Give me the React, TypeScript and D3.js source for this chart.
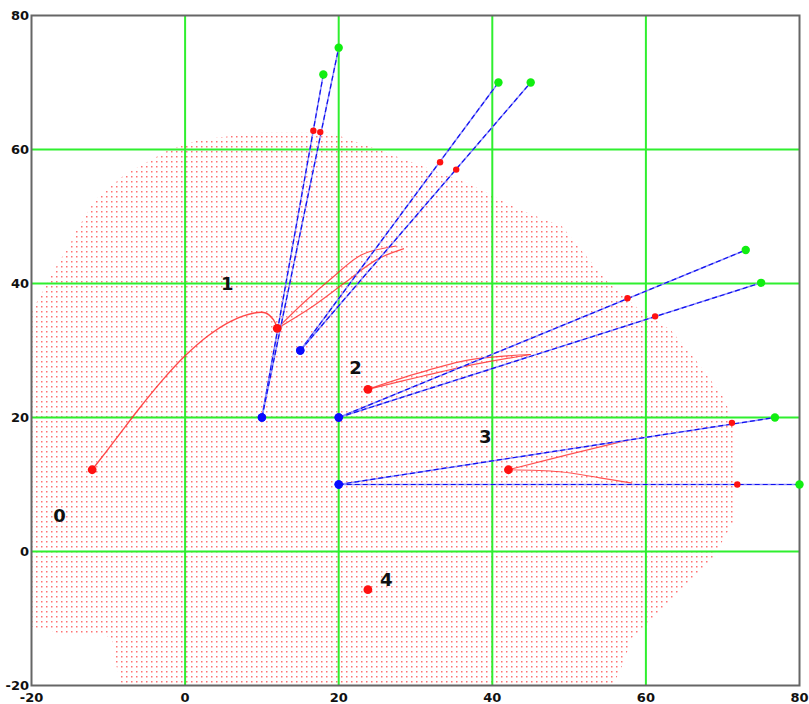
import React from "react";
import * as d3 from "d3";

const W = 809, H = 704;
const xTicks = [-20, 0, 20, 40, 60, 80];
const yTicks = [-20, 0, 20, 40, 60, 80];
const gridVals = [0, 20, 40, 60];

// workspace boundary (data coords)
const workspace: [number, number][] = [
  [-20, 35.8], [-16.5, 43.1], [-15, 45.8], [-14.3, 47.6], [-11.7, 52.5], [-7.8, 56.3],
  [-2, 60], [2, 61.5], [9.8, 62.5], [18.9, 62.5], [20.4, 61.9], [24.1, 60.4], [28.6, 58.5],
  [37.1, 54.8], [43.6, 51], [49.1, 48.5], [51.2, 45.5], [55.1, 40.1], [59.2, 36.1],
  [63.2, 33.1], [66.4, 28.7], [70.3, 22.7], [71.6, 18.2], [71.6, 4.8], [68.6, -1.2],
  [64.5, -5.7], [60.9, -10.1], [58, -13.1], [57.3, -16.1], [55.7, -20], [-8.2, -20],
  [-8.9, -17.3], [-9.5, -13.1], [-10.8, -12.2], [-16.5, -12.2], [-18, -11.6], [-20, -11.3],
];

// arms: base -> tip, with boundary crossing
const bases: [number, number][] = [[10, 20], [10, 20], [15, 30], [15, 30], [20, 20], [20, 20], [20, 10], [20, 10]];
const tips: [number, number][] = [[18, 71.2], [20, 75.2], [40.8, 70], [45, 70], [73, 45], [75, 40.1], [76.8, 20], [80, 10]];
const crossings: [number, number][] = [[16.7, 62.8], [17.6, 62.6], [33.2, 58.1], [35.3, 57.0], [57.6, 37.8], [61.2, 35.1], [71.2, 19.2], [71.9, 10]];

// targets
const targets: [number, number][] = [[-12.1, 12.2], [12, 33.3], [23.8, 24.2], [42.1, 12.2], [23.8, -5.7]];
const targetLabels = ["0", "1", "2", "3", "4"];
const labelPos: [number, number][] = [[-16.35, 5.4], [5.5, 40], [22.2, 27.5], [39.1, 17.2], [26.2, -4.2]];

// trajectories
const traj0: [number, number][] = [[-12.1, 12.2], [-9, 16.8], [-6, 21.3], [-3, 25.5], [0, 29.2], [3, 32.2], [6, 34.4], [9, 35.6], [10.5, 35.6], [11.5, 34.6], [12, 33.3]];
const traj1a: [number, number][] = [[12, 33.3], [15.5, 37.2], [19.5, 41.2], [23, 44.3], [27.5, 45.6]];
const traj1b: [number, number][] = [[12, 33.3], [16.5, 36.5], [21, 40.3], [25, 43.6], [28.5, 45.2]];
const traj2a: [number, number][] = [[23.8, 24.2], [30, 26.5], [37, 28.6], [45, 29.4]];
const traj2b: [number, number][] = [[23.8, 24.2], [31, 26.2], [38, 28], [45, 29.4]];
const traj3a: [number, number][] = [[42.1, 12.2], [50, 14.5], [57.9, 16.7]];
const traj3b: [number, number][] = [[42.1, 12.2], [48.8, 11.9], [54, 11], [58.2, 10.2]];

export default function App() {
  const x = d3.scaleLinear().domain([-20, 80]).range([31.5, 799.5]);
  const y = d3.scaleLinear().domain([-20, 80]).range([685.5, 15.5]);
  const poly = d3.line<[number, number]>().x(d => x(d[0])).y(d => y(d[1]))(workspace) + "Z";
  const curve = d3.line<[number, number]>().x(d => x(d[0])).y(d => y(d[1])).curve(d3.curveCatmullRom.alpha(0.5));
  const trajs = [traj1a, traj1b, traj2a, traj2b, traj3a, traj3b];
  const font = "'DejaVu Sans', Verdana, sans-serif";
  return (
    <svg width={W} height={H} style={{ position: "absolute", left: 0, top: 0 }}>
      <defs>
        <pattern id="dots" patternUnits="userSpaceOnUse" width={5} height={5} x={0} y={0}>
          <rect x={1} y={1} width={1.5} height={1.5} fill="#ff7272" />
        </pattern>
      </defs>
      <rect x={0} y={0} width={W} height={H} fill="#fff" />
      <path d={poly} fill="url(#dots)" />
      {gridVals.map(v => (
        <line key={"gx" + v} x1={x(v)} x2={x(v)} y1={y(80)} y2={y(-20)} stroke="#2fef2f" strokeWidth={2} />
      ))}
      {gridVals.map(v => (
        <line key={"gy" + v} y1={y(v)} y2={y(v)} x1={x(-20)} x2={x(80)} stroke="#2fef2f" strokeWidth={2} />
      ))}
      <rect x={x(-20)} y={y(80)} width={x(80) - x(-20)} height={y(-20) - y(80)} fill="none" stroke="#666" strokeWidth={2} />
      <path d={curve(traj0) || ""} fill="none" stroke="#ff2a2a" strokeWidth={1.4} strokeOpacity={0.85} />
      {trajs.map((t, i) => (
        <path key={"t" + i} d={curve(t) || ""} fill="none" stroke="#ff2a2a" strokeWidth={1.2} strokeOpacity={0.8} />
      ))}
      {bases.map((b, i) => (
        <g key={"arm" + i}>
          <line x1={x(b[0])} y1={y(b[1])} x2={x(tips[i][0])} y2={y(tips[i][1])} stroke="#9090ff" strokeWidth={1.5} />
          <line x1={x(b[0])} y1={y(b[1])} x2={x(tips[i][0])} y2={y(tips[i][1])} stroke="#1010ee" strokeWidth={1.2} strokeDasharray="5 3" />
        </g>
      ))}
      {tips.map((t, i) => (
        <circle key={"g" + i} cx={x(t[0])} cy={y(t[1])} r={4.2} fill="#11ee11" />
      ))}
      {crossings.map((c, i) => (
        <circle key={"c" + i} cx={x(c[0])} cy={y(c[1])} r={3.2} fill="#ff1111" />
      ))}
      {bases.map((b, i) => (
        <circle key={"b" + i} cx={x(b[0])} cy={y(b[1])} r={4.2} fill="#0a0aff" />
      ))}
      {targets.map((t, i) => (
        <circle key={"tg" + i} cx={x(t[0])} cy={y(t[1])} r={4.4} fill="#ff1111" />
      ))}
      {labelPos.map((p, i) => (
        <text key={"l" + i} x={x(p[0])} y={y(p[1])} textAnchor="middle" dominantBaseline="central"
          fontFamily={font} fontWeight="bold" fontSize={18} fill="#111">{targetLabels[i]}</text>
      ))}
      {yTicks.map(v => (
        <text key={"yt" + v} x={29} y={y(v)} textAnchor="end" dominantBaseline="central"
          fontFamily={font} fontWeight="bold" fontSize={13} fill="#111">{v}</text>
      ))}
      {xTicks.map(v => (
        <text key={"xt" + v} x={x(v)} y={702} textAnchor="middle"
          fontFamily={font} fontWeight="bold" fontSize={13} fill="#111">{v}</text>
      ))}
    </svg>
  );
}
